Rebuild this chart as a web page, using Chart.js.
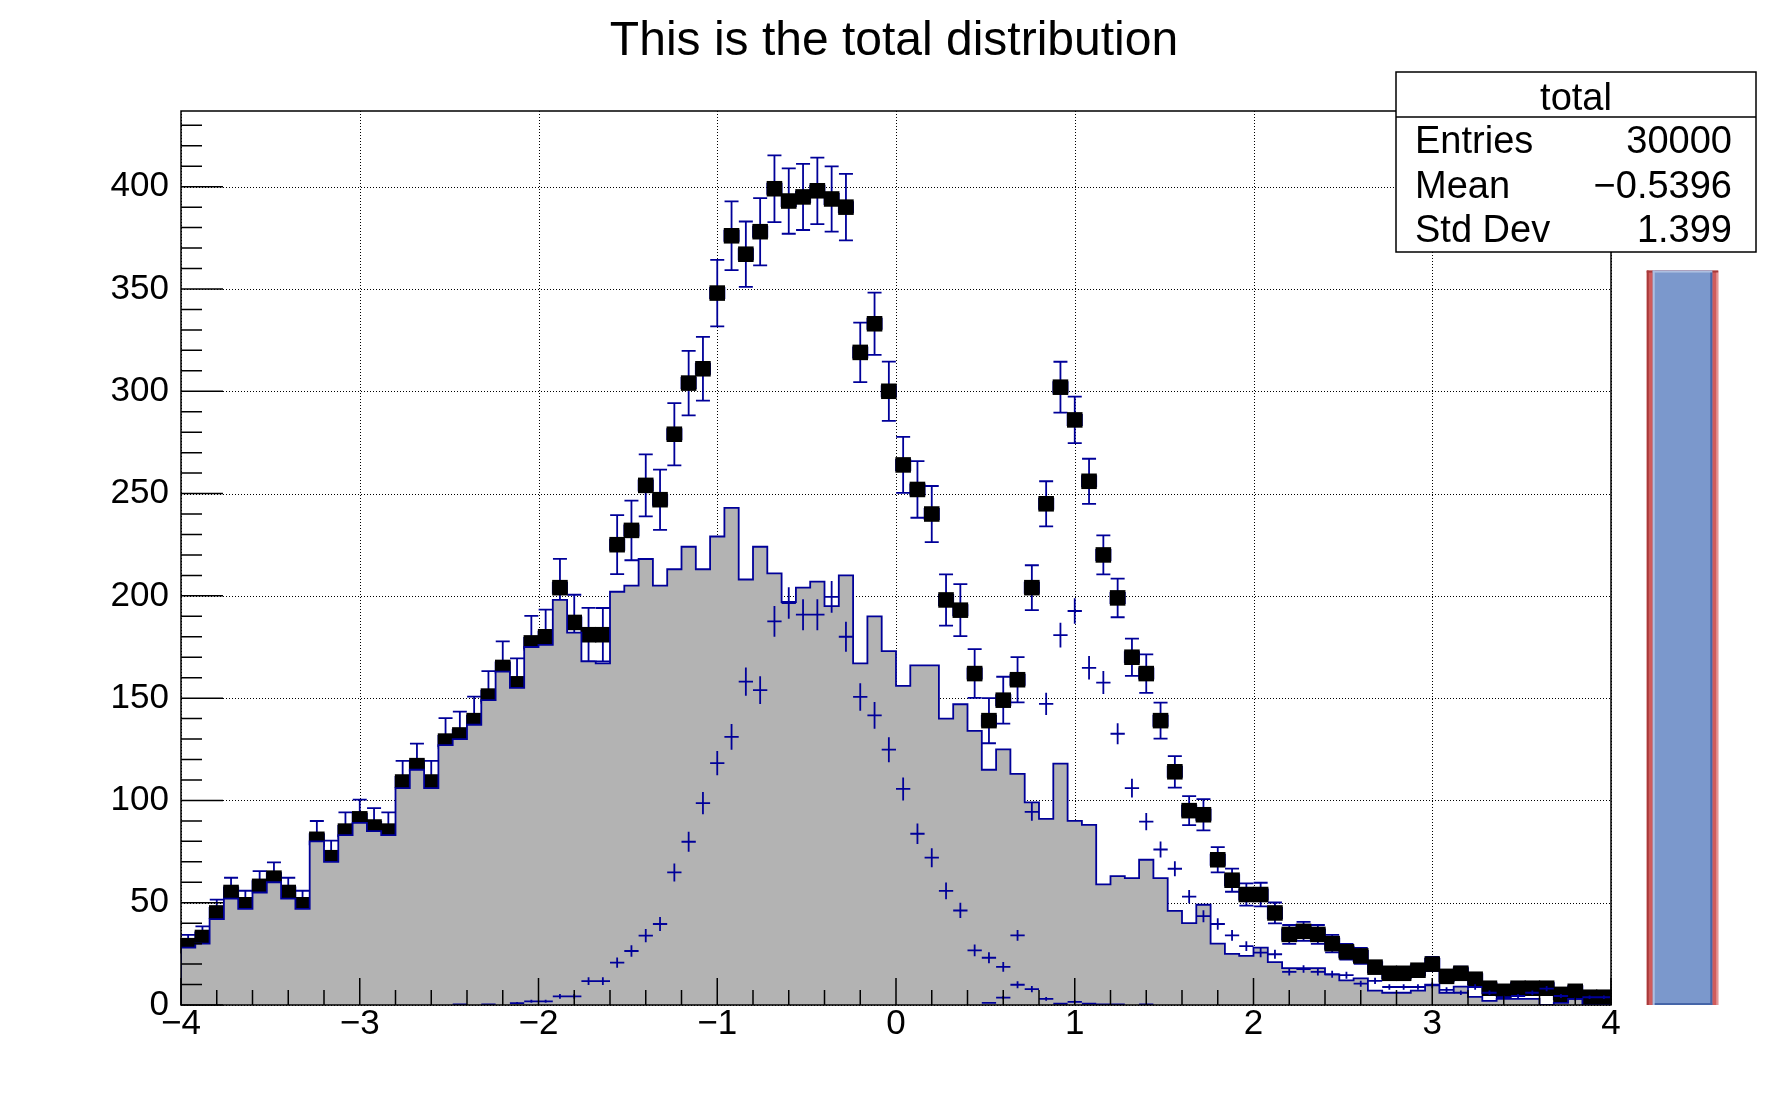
<!DOCTYPE html>
<html>
<head>
<meta charset="utf-8">
<script src="https://cdn.jsdelivr.net/npm/chart.js@4/dist/chart.umd.min.js"></script>
<style>
  html, body { margin: 0; padding: 0; background: #fff; }
  canvas { display: block; }
</style>
</head>
<body>
<canvas id="chartRoot" width="1788" height="1116"></canvas>
<script>
// histogram binning: 100 bins from -4 to 4
const binLow = -4, binHigh = 4, nBins = 100;

// main contributor (grey filled histogram)
const mainCounts = [
  28, 30, 42, 52, 47, 55, 60, 52, 47, 80,
  70, 83, 89, 85, 83, 106, 115, 106, 127, 130,
  137, 149, 163, 155, 175, 176, 198, 182, 168, 167,
  202, 205, 218, 205, 213, 224, 213, 229, 243, 208,
  224, 211, 197, 204, 207, 195, 210, 167, 190, 173,
  156, 166, 166, 140, 147, 134, 115, 125, 113, 99,
  91, 118, 90, 88, 59, 63, 62, 71, 62, 46,
  40, 49, 30, 25, 24, 28, 21, 18, 18, 18,
  15, 12, 13, 7, 6, 6, 7, 10, 6, 9,
  4, 2, 3, 3, 3, 0, 1, 3, 0, 0
];

// first signal (gaussian), filled with weight 0.3 - null = empty bin
const signal1 = [
  null, null, null, null, null, null, null, null, null, null,
  null, null, null, null, null, null, null, null, null, 0.3,
  null, 0.3, null, 0.9, 1.8, 1.8, 4.2, 4.2, 11.7, 11.7,
  20.7, 26.4, 33.9, 39.6, 64.8, 79.8, 98.7, 118.2, 131.1, 158.1,
  153.9, 187.5, 196.5, 190.8, 190.8, 199.5, 180, 150.6, 141.6, 124.8,
  105.6, 83.7, 72, 55.8, 46.2, 26.7, 23.1, 18.6, 9.9, 7.8,
  3, 0.6, 1.5, 0.6, 0.3, 0.3, null, 0.3, null, null,
  null, null, null, null, null, null, null, null, null, null,
  null, null, null, null, null, null, null, null, null, null,
  null, null, null, null, null, null, null, null, null, null
];

// second signal (landau), filled with weight 0.2
const signal2 = [
  null, null, null, null, null, null, null, null, null, null,
  null, null, null, null, null, null, null, null, null, null,
  null, null, null, null, null, null, null, null, null, null,
  null, null, null, null, null, null, null, null, null, null,
  null, null, null, null, null, null, null, null, null, null,
  null, null, null, null, null, null, 1, 3.6, 34, 94.4,
  147.2, 180.8, 192.6, 164.8, 157.6, 132.6, 106, 89.6, 76, 66.6,
  53, 43.4, 39.6, 34, 28.8, 25.6, 24.8, 16.2, 17.6, 16.2,
  15, 14.6, 10.4, 11.8, 8.8, 8.8, 8.8, 9.6, 7.4, 6,
  8.8, 6, 3.8, 4.4, 6, 8, 4.4, 3, 3.8, 3.8
];

// total distribution (black squares)
const totalCounts = [
  29, 33, 45, 55, 49, 58, 62, 55, 49, 81,
  72, 85, 91, 87, 85, 109, 117, 109, 129, 132,
  139, 151, 165, 157, 177, 180, 204, 187, 181, 181,
  225, 232, 254, 247, 279, 304, 311, 348, 376, 367,
  378, 399, 393, 395, 398, 394, 390, 319, 333, 300,
  264, 252, 240, 198, 193, 162, 139, 149, 159, 204,
  245, 302, 286, 256, 220, 199, 170, 162, 139, 114,
  95, 93, 71, 61, 54, 54, 45, 34.5, 36, 34.5,
  30, 26, 24, 18.5, 15.5, 15.5, 17, 20, 14, 15.5,
  12.6, 8.2, 6.7, 8.2, 8.2, 8.2, 5.2, 6.7, 3.8, 3.8
];

const weightS1 = 0.3, weightS2 = 0.2;

const xTicks = [-4, -3, -2, -1, 0, 1, 2, 3, 4];
const yTicks = [0, 50, 100, 150, 200, 250, 300, 350, 400];
const yMax = 437;

const titleText = 'This is the total distribution';
const statsTitle = 'total';
const statsRows = [['Entries', '30000'], ['Mean', '\u22120.5396'], ['Std Dev', '1.399']];

// slider sits right of the frame, in user coordinates
const sliderX = [4.2, 4.6];
const sliderY = [0, 359];

const BLUE = '#000099';
const FONT = "'Liberation Sans', Arial, Helvetica, sans-serif";

const binW = (binHigh - binLow) / nBins;
const centre = k => binLow + (k + 0.5) * binW;

// outline of the grey histogram, one flat step per bin
const mainStep = [{x: binLow, y: 0}];
mainCounts.forEach((v, k) => {
    mainStep.push({x: binLow + k * binW, y: v});
    mainStep.push({x: binLow + (k + 1) * binW, y: v});
});
mainStep.push({x: binHigh, y: 0});

const totalPts = totalCounts.map((v, k) => ({x: centre(k), y: v}));

function fmt(v) {
    return v < 0 ? '\u2212' + Math.abs(v) : String(v);
}

function line(ctx, x1, y1, x2, y2) {
    ctx.moveTo(x1, y1);
    ctx.lineTo(x2, y2);
}

const rootLook = {
    id: 'rootLook',
    beforeDatasetsDraw(chart) {
        const {ctx, chartArea: a, scales: {x, y}} = chart;
        ctx.save();
        // dotted grid
        ctx.strokeStyle = '#000';
        ctx.lineWidth = 1;
        ctx.setLineDash([1, 2]);
        ctx.beginPath();
        xTicks.forEach(v => {
            const px = Math.round(x.getPixelForValue(v)) + 0.5;
            line(ctx, px, a.top, px, a.bottom);
        });
        yTicks.forEach(v => {
            const py = Math.round(y.getPixelForValue(v)) + 0.5;
            line(ctx, a.left, py, a.right, py);
        });
        ctx.stroke();
        ctx.setLineDash([]);

        // error bars of total (drawn under the grey histogram)
        ctx.beginPath();
        ctx.rect(a.left, a.top, a.width, a.height);
        ctx.clip();
        ctx.strokeStyle = BLUE;
        ctx.lineWidth = 1.8;
        ctx.beginPath();
        totalCounts.forEach((v, k) => {
            const err = Math.sqrt(mainCounts[k] + weightS1 * (signal1[k] || 0) + weightS2 * (signal2[k] || 0));
            const cx = x.getPixelForValue(centre(k));
            const cy = y.getPixelForValue(v);
            const yt = y.getPixelForValue(v + err);
            const yb = y.getPixelForValue(v - err);
            const xl = x.getPixelForValue(centre(k) - binW / 2);
            const xr = x.getPixelForValue(centre(k) + binW / 2);
            line(ctx, cx, yt, cx, yb);
            line(ctx, cx - 7, yt, cx + 7, yt);
            line(ctx, cx - 7, yb, cx + 7, yb);
            line(ctx, xl, cy, xr, cy);
            line(ctx, xl, cy - 6, xl, cy + 6);
            line(ctx, xr, cy - 6, xr, cy + 6);
        });
        ctx.stroke();
        ctx.restore();
    },
    afterDatasetsDraw(chart) {
        const {ctx, chartArea: a, scales: {x, y}} = chart;
        ctx.save();
        ctx.beginPath();
        ctx.rect(a.left, a.top, a.width, a.height);
        ctx.clip();
        // signals drawn as crosses: bin width x statistical error
        ctx.strokeStyle = BLUE;
        ctx.lineWidth = 1.8;
        ctx.beginPath();
        [[signal1, weightS1], [signal2, weightS2]].forEach(([vals, w]) => {
            vals.forEach((v, k) => {
                if (v == null) return;
                const err = Math.sqrt(w * v);
                const cx = x.getPixelForValue(centre(k));
                const cy = y.getPixelForValue(v);
                line(ctx, x.getPixelForValue(centre(k) - binW / 2), cy, x.getPixelForValue(centre(k) + binW / 2), cy);
                line(ctx, cx, y.getPixelForValue(v + err), cx, y.getPixelForValue(v - err));
            });
        });
        ctx.stroke();
        ctx.restore();

        // frame and inside tick marks
        ctx.save();
        ctx.strokeStyle = '#000';
        ctx.lineWidth = 1.5;
        ctx.strokeRect(a.left, a.top, a.width, a.height);
        ctx.beginPath();
        const ySub = (yTicks[1] - yTicks[0]) / 5;
        for (let v = yTicks[0]; v <= yMax; v += ySub) {
            const major = yTicks.some(t => Math.abs(t - v) < 1e-6);
            const py = y.getPixelForValue(v);
            line(ctx, a.left, py, a.left + (major ? 42 : 21), py);
        }
        const xSub = (xTicks[1] - xTicks[0]) / 5;
        for (let v = xTicks[0]; v <= xTicks[xTicks.length - 1] + 1e-6; v += xSub) {
            const major = xTicks.some(t => Math.abs(t - v) < 1e-6);
            const px = x.getPixelForValue(v);
            line(ctx, px, a.bottom, px, a.bottom - (major ? 27 : 15));
        }
        ctx.stroke();
        ctx.restore();
    },
    afterDraw(chart) {
        const {ctx, width, scales: {x, y}} = chart;
        ctx.save();
        // title, centred on the whole canvas
        ctx.fillStyle = '#000';
        ctx.font = '48px ' + FONT;
        ctx.textAlign = 'center';
        ctx.textBaseline = 'middle';
        ctx.fillText(titleText, width / 2, 42);

        // slider
        const sx0 = x.getPixelForValue(sliderX[0]), sx1 = x.getPixelForValue(sliderX[1]);
        const sy0 = y.getPixelForValue(sliderY[0]), sy1 = y.getPixelForValue(sliderY[1]);
        const h = sy0 - sy1;
        ctx.fillStyle = '#cf5c5c';
        ctx.fillRect(sx0, sy1, sx1 - sx0, h);
        ctx.fillStyle = '#a83a3a';
        ctx.fillRect(sx0, sy1, 2, h);
        ctx.fillRect(sx0, sy1, sx1 - sx0, 2);
        ctx.fillStyle = '#e59595';
        ctx.fillRect(sx1 - 2, sy1 + 2, 2, h - 2);
        const bx0 = sx0 + 6, bx1 = sx1 - 6;
        ctx.fillStyle = '#7b98cc';
        ctx.fillRect(bx0, sy1, bx1 - bx0, h);
        ctx.fillStyle = '#adbfe0';
        ctx.fillRect(bx0, sy1, bx1 - bx0, 2);
        ctx.fillRect(bx0, sy1, 2, h);
        ctx.fillStyle = '#4565a8';
        ctx.fillRect(bx1 - 2, sy1 + 2, 2, h - 2);
        ctx.fillRect(bx0 + 2, sy0 - 2, bx1 - bx0 - 2, 2);

        // stats box
        ctx.fillStyle = '#fff';
        ctx.fillRect(1396, 72, 360, 180);
        ctx.strokeStyle = '#000';
        ctx.lineWidth = 1.5;
        ctx.strokeRect(1396, 72, 360, 180);
        ctx.beginPath();
        line(ctx, 1396, 117, 1756, 117);
        ctx.stroke();
        ctx.fillStyle = '#000';
        ctx.font = '38px ' + FONT;
        ctx.textBaseline = 'middle';
        ctx.textAlign = 'center';
        ctx.fillText(statsTitle, 1576, 100);
        statsRows.forEach(([label, val], i) => {
            const ty = 143 + i * 44.5;
            ctx.textAlign = 'left';
            ctx.fillText(label, 1415, ty);
            ctx.textAlign = 'right';
            ctx.fillText(val, 1732, ty);
        });
        ctx.restore();
    }
};

const ctx = document.getElementById('chartRoot').getContext('2d');
const chart = new Chart(ctx, {
    type: 'scatter',
    data: {
        datasets: [{
            label: 'main',
            data: mainStep,
            showLine: true,
            borderColor: BLUE,
            borderWidth: 1.8,
            backgroundColor: '#b3b3b3',
            fill: 'origin',
            pointRadius: 0,
            pointHitRadius: 0,
            order: 1
        }, {
            label: 'total',
            data: totalPts,
            pointStyle: 'rect',
            pointRadius: 11,
            backgroundColor: '#000',
            borderColor: '#000',
            borderWidth: 0,
            clip: false,
            order: 2
        }]
    },
    options: {
        responsive: false,
        devicePixelRatio: 1,
        animation: false,
        events: [],
        layout: { padding: { left: 0, right: 177, top: 111, bottom: 0 } },
        scales: {
            x: {
                type: 'linear',
                min: binLow,
                max: binHigh,
                afterBuildTicks: s => { s.ticks = xTicks.map(v => ({value: v})); },
                afterFit: s => { s.height = 111; },
                grid: { display: false, drawTicks: false },
                border: { display: false },
                ticks: {
                    padding: -2,
                    color: '#000',
                    maxRotation: 0,
                    autoSkip: false,
                    font: { family: FONT, size: 35 },
                    callback: v => fmt(v)
                }
            },
            y: {
                type: 'linear',
                min: 0,
                max: yMax,
                afterBuildTicks: s => { s.ticks = yTicks.map(v => ({value: v})); },
                afterFit: s => { s.width = 181; },
                grid: { display: false, drawTicks: false },
                border: { display: false },
                ticks: {
                    padding: 12,
                    color: '#000',
                    autoSkip: false,
                    font: { family: FONT, size: 35 },
                    callback: v => fmt(v)
                }
            }
        },
        plugins: {
            legend: { display: false },
            tooltip: { enabled: false },
            title: { display: false }
        }
    },
    plugins: [rootLook]
});
</script>
</body>
</html>
